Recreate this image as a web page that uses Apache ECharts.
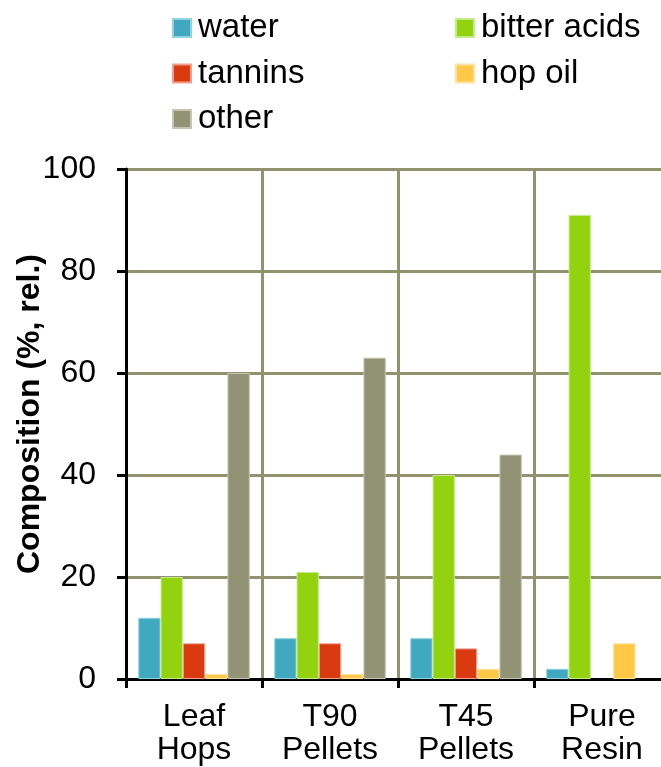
<!DOCTYPE html>
<html>
<head>
<meta charset="utf-8">
<script src="https://cdn.jsdelivr.net/npm/echarts@6/dist/echarts.min.js"></script>
<style>
html,body{margin:0;padding:0;background:#fff;}
#chart{width:661px;height:767px;}
</style>
</head>
<body>
<div id="chart"></div>
<script>
const categories = ['Leaf\nHops', 'T90\nPellets', 'T45\nPellets', 'Pure\nResin'];
const water = [12, 8, 8, 2];
const bitterAcids = [20, 21, 40, 91];
const tannins = [7, 7, 6, 0];
const hopOil = [1, 1, 2, 7];
const other = [60, 63, 44, 0];
const yTicks = [0, 20, 40, 60, 80, 100];

const FONT = '"Liberation Sans", Arial, sans-serif';
const GRID = '#92926f';
const colors = {
  water: '#40a9c0', bitter: '#92d20f', tannins: '#da3a10', hop: '#ffc846', other: '#929274'
};
function bar(name, data, color, border) {
  return {
    name, type: 'bar',
    data: data.map(v => v === 0 ? { value: 0, itemStyle: { borderWidth: 0 } } : v),
    barGap: '0%', barCategoryGap: '18%',
    itemStyle: { color, borderColor: border, borderWidth: 1 }
  };
}
const chart = echarts.init(document.getElementById('chart'));
const legendText = { fontSize: 33, fontFamily: FONT, color: '#000', lineHeight: 36, padding: [0, 0, 0, 2] };
chart.setOption({
  animation: false,
  backgroundColor: '#fff',
  legend: [
    { orient: 'vertical', left: 172, top: 10, padding: 0, itemWidth: 18, itemHeight: 18, itemGap: 9.5,
      icon: 'rect', textStyle: legendText, data: ['water', 'tannins', 'other'] },
    { orient: 'vertical', left: 455, top: 10, padding: 0, itemWidth: 18, itemHeight: 18, itemGap: 9.5,
      icon: 'rect', textStyle: legendText, data: ['bitter acids', 'hop oil'] }
  ],
  grid: { left: 126, top: 169, width: 544, height: 510, outerBoundsMode: 'none' },
  xAxis: {
    type: 'category', data: categories,
    axisLine: { lineStyle: { color: '#000', width: 3 } },
    axisTick: { show: true, length: 9, lineStyle: { color: '#000', width: 3 } },
    splitLine: { show: true, lineStyle: { color: GRID, width: 3 } },
    axisLabel: { fontSize: 32, lineHeight: 33, fontFamily: FONT, color: '#000', margin: 22, interval: 0 }
  },
  yAxis: {
    type: 'value', min: yTicks[0], max: yTicks[yTicks.length - 1], interval: 20,
    name: 'Composition (%, rel.)', nameLocation: 'middle', nameGap: 80, nameMoveOverlap: false,
    nameTextStyle: { fontSize: 32, fontWeight: 'bold', fontFamily: FONT, color: '#000', padding: [0, 0, 0, 20] },
    axisLine: { show: true, lineStyle: { color: '#000', width: 3 } },
    axisTick: { show: true, length: 9, lineStyle: { color: '#000', width: 3 } },
    splitLine: { show: true, lineStyle: { color: GRID, width: 3 } },
    axisLabel: { fontSize: 32, fontFamily: FONT, color: '#000', margin: 30 }
  },
  series: [
    bar('water', water, colors.water, '#8fd3e0'),
    bar('bitter acids', bitterAcids, colors.bitter, '#c4ec8a'),
    bar('tannins', tannins, colors.tannins, '#f0a090'),
    bar('hop oil', hopOil, colors.hop, '#ffe2a0'),
    bar('other', other, colors.other, '#c4c4b0')
  ]
});
</script>
</body>
</html>
